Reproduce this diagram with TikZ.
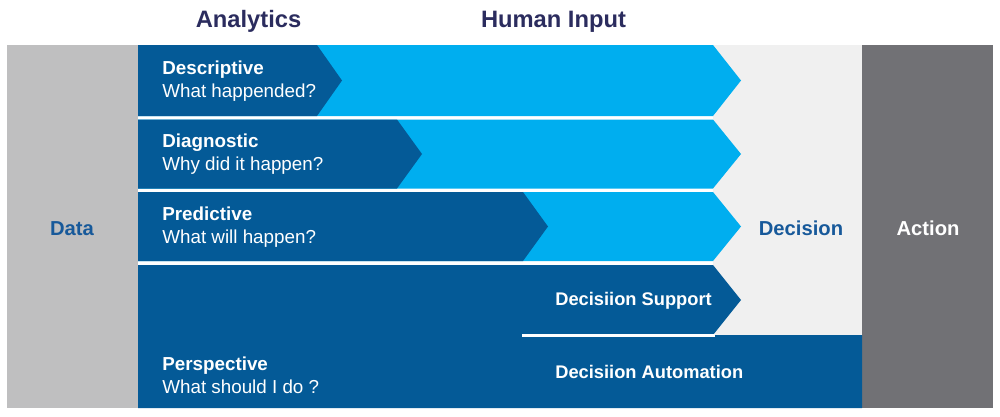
\documentclass[tikz,border=0pt]{standalone}
\usepackage{fontspec}
\setmainfont{Liberation Sans}
\usepackage{xcolor}
\usetikzlibrary{arrows.meta, positioning, calc}
\definecolor{darkblue}{HTML}{045A97}
\definecolor{lightblue}{HTML}{00AEEF}
\definecolor{datagray}{HTML}{BFBFC0}
\definecolor{decgray}{HTML}{F0F0F0}
\definecolor{actgray}{HTML}{717175}
\definecolor{titlenavy}{HTML}{2B2C5E}
\definecolor{labelblue}{HTML}{17599A}

\begin{document}
\begin{tikzpicture}[x=0.2mm, y=-0.2mm,
    head/.style={font=\fontsize{13.5}{16}\selectfont\bfseries, text=titlenavy, anchor=base},
    colhead/.style={font=\fontsize{11.5}{14}\selectfont\bfseries, anchor=base},
    rowtxt/.style={font=\fontsize{10.7}{13.1}\selectfont, text=white, align=left, anchor=west, inner sep=0pt},
    dectxt/.style={font=\fontsize{10.4}{12.5}\selectfont\bfseries, text=white, anchor=base west, inner sep=0pt}]

    \useasboundingbox (0,0) rectangle (1000,416);

    % Cột 1: Data, cột 3: Decision, cột 4: Action
    \fill[datagray] (7,45) rectangle (138,408);
    \fill[decgray] (713,45) rectangle (862,335);
    \fill[actgray] (862,45) rectangle (993,408);

    % Mũi tên xanh nhạt (Human Input)
    \foreach \t/\b in {45/116, 119.5/188.5, 192/261}
        \fill[lightblue] (138,\t) -- (713,\t) -- (741,{(\t+\b)/2}) -- (713,\b) -- (138,\b) -- cycle;

    % Mũi tên xanh đậm (Analytics)
    \foreach \t/\b/\x in {45/116/317, 119.5/188.5/397, 192/261/523}
        \fill[darkblue] (138,\t) -- (\x,\t) -- ({\x+25},{(\t+\b)/2}) -- (\x,\b) -- (138,\b) -- cycle;

    % Khối dưới: Perspective + Decision Support + Decision Automation
    \fill[darkblue] (138,265) -- (713,265) -- (741,300) -- (713,335) -- (862,335)
        -- (862,408) -- (138,408) -- cycle;
    \draw[white, line width=0.6mm] (522,335) -- (715,335);

    % Tiêu đề
    \node[head] (analytics) at (248.5,27) {Analytics};
    \node[head] (human) at (553.5,27) {Human Input};

    % Nhãn cột
    \node[colhead, text=labelblue] (data) at (72,235) {Data};
    \node[colhead, text=labelblue] (decision) at (801,235) {Decision};
    \node[colhead, text=white] (action) at (928,235) {Action};

    % Nhãn hàng
    \node[rowtxt] (desc) at (162,81.6) {\textbf{Descriptive}\\What happended?};
    \node[rowtxt] (diag) at (162,154.6) {\textbf{Diagnostic}\\Why did it happen?};
    \node[rowtxt] (pred) at (162,227.6) {\textbf{Predictive}\\What will happen?};
    \node[rowtxt] (persp) at (162,375) {\textbf{Perspective}\\What should I do ?};

    \node[dectxt] (support) at (555,305) {Decisiion Support};
    \node[dectxt] (automation) at (555,378) {Decisiion Automation};

\end{tikzpicture}
\end{document}
